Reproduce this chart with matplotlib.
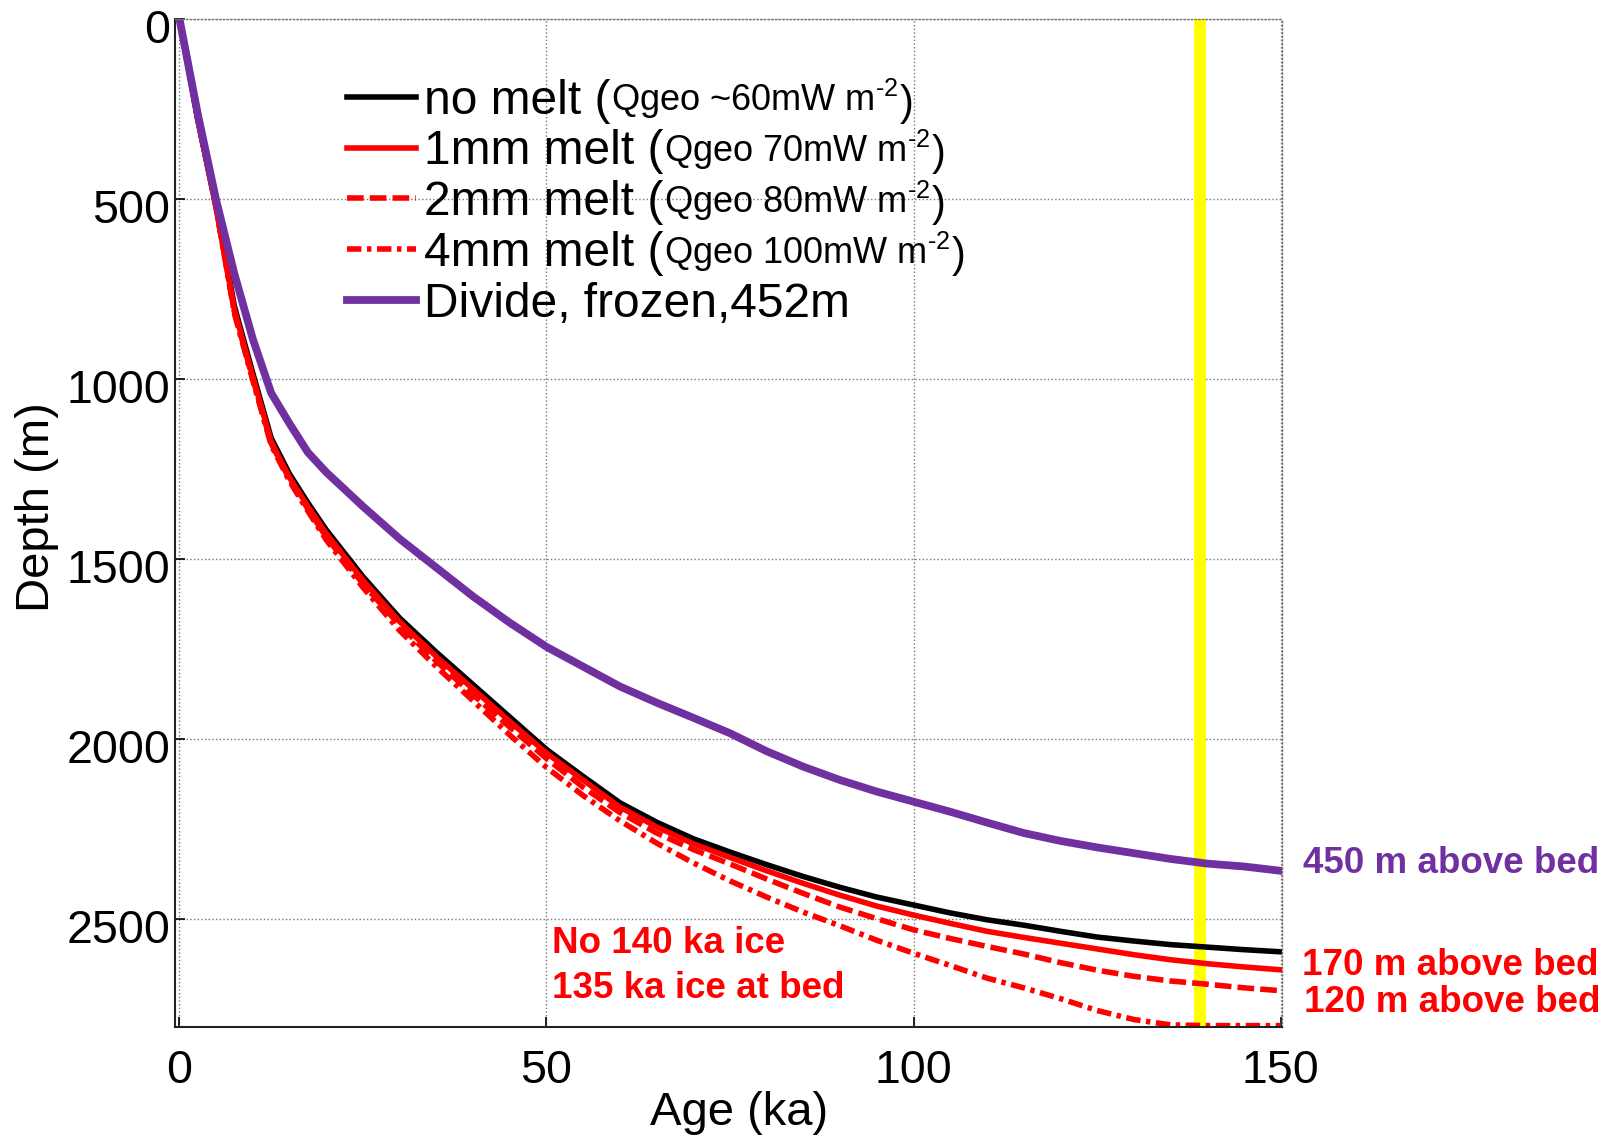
import matplotlib
matplotlib.use("Agg")
import matplotlib.pyplot as plt
from matplotlib.transforms import ScaledTranslation

plt.rcParams['font.family'] = ['Liberation Sans', 'DejaVu Sans']
plt.rcParams['mathtext.fontset'] = 'custom'
plt.rcParams['mathtext.rm'] = 'Liberation Sans'
plt.rcParams['mathtext.default'] = 'regular'

# age in ka, depth in m
age = [0, 2.5, 5, 7.5, 10, 12.5, 15, 17.5, 20, 25, 30, 35, 40, 45, 50, 55, 60, 65,
       70, 75, 80, 85, 90, 95, 100, 105, 110, 115, 120, 125, 130, 135, 140, 145, 150]

depth_no_melt = [0, 280, 520, 800, 985, 1165, 1265, 1345, 1420, 1550, 1665, 1760, 1850,
                 1940, 2030, 2105, 2178, 2232, 2278, 2315, 2350, 2383, 2413, 2440, 2462,
                 2484, 2503, 2518, 2535, 2551, 2562, 2572, 2579, 2586, 2592]
depth_1mm = [0, 280, 525, 810, 995, 1175, 1275, 1355, 1430, 1560, 1675, 1772, 1862,
             1952, 2040, 2115, 2190, 2245, 2292, 2330, 2367, 2402, 2435, 2465, 2490,
             2513, 2535, 2552, 2568, 2584, 2600, 2614, 2625, 2634, 2642]
depth_2mm = [0, 280, 525, 815, 1000, 1180, 1280, 1362, 1440, 1570, 1685, 1785, 1878,
             1968, 2055, 2135, 2205, 2262, 2308, 2348, 2390, 2430, 2468, 2500, 2531,
             2555, 2577, 2598, 2622, 2643, 2660, 2673, 2682, 2692, 2700]
depth_4mm = [0, 280, 525, 820, 1005, 1185, 1285, 1368, 1448, 1580, 1700, 1800, 1895,
             1990, 2080, 2158, 2228, 2290, 2345, 2395, 2440, 2482, 2520, 2560, 2596,
             2630, 2665, 2692, 2722, 2755, 2780, 2795, 2797, 2797, 2797]
depth_divide = [0, 265, 504, 710, 890, 1040, 1125, 1205, 1260, 1355, 1445, 1525, 1605,
                1678, 1745, 1800, 1855, 1900, 1942, 1985, 2035, 2078, 2115, 2147, 2175,
                2203, 2233, 2262, 2284, 2302, 2318, 2334, 2347, 2355, 2367]

big_labels = ['no melt (', '1mm melt (', '2mm melt (', '4mm melt (', 'Divide, frozen,452m']
small_labels = [r'Qgeo ~60mW m$^{\text{-2}}$', r'Qgeo 70mW m$^{\text{-2}}$',
                r'Qgeo 80mW m$^{\text{-2}}$', r'Qgeo 100mW m$^{\text{-2}}$', None]

yellow_age = 139.0
purple = '#7030A0'
red = '#FF0000'

fig = plt.figure(figsize=(16.1, 11.38), dpi=100)
ax = fig.add_axes([0.1087, 0.0978, 0.6874, 0.8859])

ax.axvline(yellow_age, ymax=0.996, color='#FFFF00', lw=8.6, zorder=1.5)

lw = 4.0
ax.plot(age, depth_no_melt, color='black', lw=lw, label=big_labels[0])
ax.plot(age, depth_1mm, color=red, lw=lw, label=big_labels[1])
ax.plot(age, depth_2mm, color=red, lw=lw, dashes=(3, 1.1), label=big_labels[2])
ax.plot(age, depth_4mm, color=red, lw=lw, dashes=(2.6, 1, 0.8, 1), label=big_labels[3])
ax.plot(age, depth_divide, color=purple, lw=5.6, label=big_labels[4])

ax.set_xlim(-0.6, 150.15)
ax.set_ylim(2800, 0)
ax.set_xticks([0, 50, 100, 150])
ax.set_yticks([0, 500, 1000, 1500, 2000, 2500])
ax.grid(True, linestyle=':', color='#777777', lw=1.0)
ax.set_axisbelow(True)
ax.tick_params(direction='in', length=7, width=1.2, labelsize=33.5,
               top=False, right=False)
ax.tick_params(axis='x', pad=16)
ax.tick_params(axis='y', pad=3.5)
for lab in ax.get_yticklabels():
    lab.set_transform(lab.get_transform() + ScaledTranslation(0, -5.5 / 72, fig.dpi_scale_trans))

for side in ['top', 'right']:
    ax.spines[side].set_linestyle(':')
    ax.spines[side].set_color('#777777')
    ax.spines[side].set_linewidth(1.0)
for side in ['left', 'bottom']:
    ax.spines[side].set_color('#222222')
    ax.spines[side].set_linewidth(1.5)

ax.set_xlabel('Age (ka)', fontsize=34)
ax.set_ylabel('Depth (m)', fontsize=34)
ax.yaxis.set_label_coords(-0.105, 0.5155)
ax.xaxis.set_label_coords(0.5096, -0.064)

leg = ax.legend(loc='upper left', bbox_to_anchor=(0.155, 0.9405), frameon=False,
                fontsize=34.5, handlelength=1.45, handletextpad=0.17, labelspacing=0.12,
                borderpad=0, borderaxespad=0)
for txt, small in zip(leg.get_texts(), small_labels):
    if small is None:
        continue
    a = ax.annotate(small, xy=(1, 0), xycoords=txt, xytext=(0, 1.5),
                    textcoords='offset points', fontsize=26, ha='left', va='bottom',
                    zorder=6)
    ax.annotate(')', xy=(1, 0), xycoords=a, xytext=(1, -1.5),
                textcoords='offset points', fontsize=30, ha='left', va='bottom',
                zorder=6)

bold = dict(fontsize=26.5, fontweight='bold', ha='left', va='baseline', clip_on=False)
ax.text(153.1, 2374, '450 m above bed', color=purple, **bold)
ax.text(152.9, 2656, '170 m above bed', color=red, **bold)
ax.text(153.2, 2758, '120 m above bed', color=red, **bold)
ax.text(50.7, 2596, 'No 140 ka ice', color=red, **bold)
ax.text(50.7, 2721, '135 ka ice at bed', color=red, **bold)

fig.canvas.draw()
fig.savefig('out.png', dpi=100)
